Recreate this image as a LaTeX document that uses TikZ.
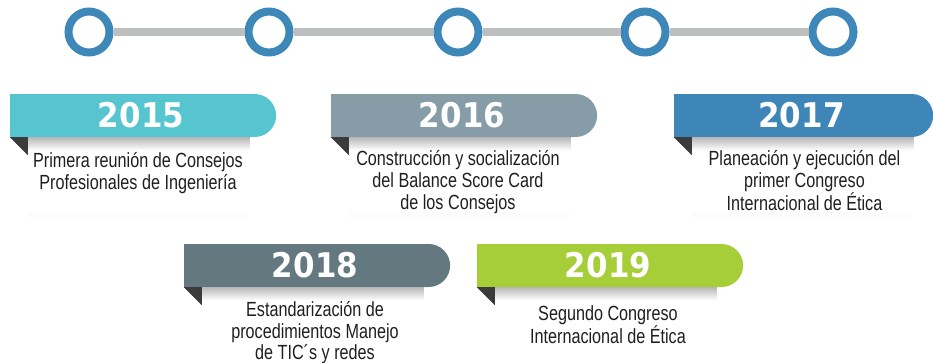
\documentclass[tikz,border=0pt]{standalone}
\usepackage{fontspec}
\setmainfont{Liberation Sans}[FakeStretch=0.79]
\newfontfamily\yearfont{DejaVu Sans}[FakeStretch=0.91]
\usetikzlibrary{positioning,shapes.misc}
\definecolor{ringblue}{HTML}{3E87B9}
\definecolor{trackgray}{HTML}{BCBEC0}
\definecolor{foldgray}{HTML}{3B3B3B}
\definecolor{teal15}{HTML}{56C5D0}
\definecolor{slate16}{HTML}{869CA7}
\definecolor{blue17}{HTML}{3F86B8}
\definecolor{slate18}{HTML}{63787F}
\definecolor{green19}{HTML}{A6CE39}
\tikzset{
    ring/.style={circle, draw=ringblue, line width=8pt, fill=white, minimum size=41pt, inner sep=0pt},
    track/.style={draw=trackgray, line width=8pt},
    ribbon/.style={rounded rectangle, rounded rectangle west arc=none, minimum width=266pt,
        minimum height=43pt, inner sep=0pt, text=white, font=\yearfont\bfseries\fontsize{34}{34}\selectfont},
    desc/.style={align=center, text=black!88, inner sep=0pt, font=\fontsize{20.5}{22}\selectfont},
    fold/.style={fill=foldgray},
    barshadow/.style={top color=black!28, bottom color=white},
    cardshadow/.style={top color=black!14, bottom color=white}
}
\begin{document}
\begin{tikzpicture}[x=1pt, y=-1pt]
    \useasboundingbox (0,0) rectangle (933,362);
    \foreach \x [count=\i] in {89,269,458,645,833}
        \node[ring] (p\i) at (\x,32) {};
    \foreach \a/\b in {1/2,2/3,3/4,4/5}
        \draw[track] (p\a) -- (p\b);

    \node[ribbon, fill=teal15]  (r2015) at (141,115.5) {2015};
    \node[ribbon, fill=slate16] (r2016) at (462,115.5) {2016};
    \node[ribbon, fill=blue17, minimum width=259pt] (r2017) at (801.5,115.5) {2017};
    \node[ribbon, fill=slate18] (r2018) at (315,265.5) {2018};
    \node[ribbon, fill=green19] (r2019) at (608,265.5) {2019};

    \foreach \r in {r2015,r2016,r2017,r2018,r2019} {
        \shade[barshadow] (\r.west |- \r.south) ++(18,0) rectangle ++(222,13);
        \fill[fold] (\r.west |- \r.south) -- ++(18,0) -- ++(0,18) -- cycle;
    }
    \foreach \r in {r2015,r2016,r2017}
        \shade[cardshadow] (\r.west |- \r.south) ++(18,75) rectangle ++(220,9);

    \node[desc, below=15pt of r2015, xshift=-3pt] (t2015) {Primera reunión de Consejos\\Profesionales de Ingeniería};
    \node[desc, below=13pt of r2016, xshift=-4pt] (t2016) {Construcción y socialización\\del Balance Score Card\\de los Consejos};
    \node[desc, below=13pt of r2017, xshift=3pt] (t2017) {Planeación y ejecución del\\primer Congreso\\Internacional de Ética};
    \node[desc, below=14pt of r2018, font=\fontsize{20.5}{21.5}\selectfont] (t2018) {Estandarización de\\procedimientos Manejo\\de TIC´s y redes};
    \node[desc, below=18pt of r2019] (t2019) {Segundo Congreso\\Internacional de Ética};
\end{tikzpicture}
\end{document}
